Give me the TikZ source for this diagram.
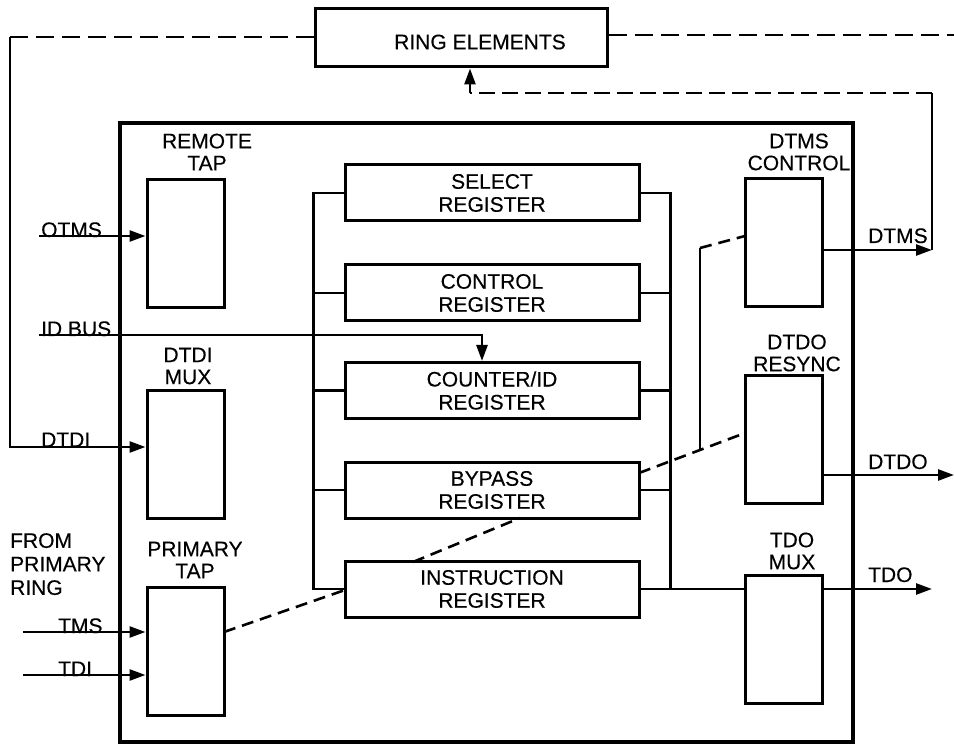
\documentclass[tikz,border=0pt]{standalone}
\usepackage{fontspec}
\setmainfont[FakeBold=0.3]{Liberation Sans}
\usetikzlibrary{arrows.meta}
\begin{document}
\begin{tikzpicture}[x=1pt,y=-1pt,
  lbl/.style={font=\fontsize{21}{22}\selectfont, inner sep=0pt, align=center},
  blk/.style={draw, line width=3pt, inner sep=0pt, minimum width=77pt, minimum height=128pt},
  reg/.style={draw, line width=3pt, inner sep=0pt, minimum width=294pt, minimum height=56pt, lbl, font=\fontsize{21}{23}\selectfont},
  wire/.style={line width=2.6pt},
  arr/.style={wire, -{Triangle[length=16pt,width=11pt]}},
  dsh/.style={wire, dash pattern=on 12pt off 7pt},
  ldsh/.style={wire, dash pattern=on 18pt off 8pt},
]
\useasboundingbox (0,0) rectangle (954,746);

% outer boxes
\node[draw, line width=4pt, minimum width=733pt, minimum height=619pt, inner sep=0pt] (main) at (486.5,432.5) {};
\node[draw, line width=3pt, minimum width=292pt, minimum height=58pt, inner sep=0pt] (ring) at (461,38) {};
\node[lbl] (ringtxt) at (480,42) {RING ELEMENTS};

% left blocks
\node[blk] (rtap) at (185.5,243.5) {};
\node[blk] (dmux) at (185.5,454) {};
\node[blk] (ptap) at (185.5,651) {};
\node[lbl] (rtaplbl) at (207,152) {REMOTE\\TAP};
\node[lbl] (dmuxlbl) at (188,366) {DTDI\\MUX};
\node[lbl] (ptaplbl) at (195,560) {PRIMARY\\TAP};

% right blocks
\node[blk] (dtms) at (784,242.5) {};
\node[blk] (dtdo) at (783.5,439) {};
\node[blk] (tmux) at (784,639) {};
\node[lbl] (dtmslbl) at (799,152) {DTMS\\CONTROL};
\node[lbl] (dtdolbl) at (797,353) {DTDO\\RESYNC};
\node[lbl] (tmuxlbl) at (792,551) {TDO\\MUX};

% registers
\node[reg] (sel) at (492,193) {SELECT\\REGISTER};
\node[reg] (ctl) at (492,293) {CONTROL\\REGISTER};
\node[reg] (cnt) at (492,390.5) {COUNTER/ID\\REGISTER};
\node[reg] (byp) at (492,490) {BYPASS\\REGISTER};
\node[reg] (ins) at (492,589) {INSTRUCTION\\REGISTER};

% left bus
\draw[wire] (sel.west) -- ++(-30,0) coordinate (lt) -- (lt |- ins.west) -- (ins.west);
\draw[wire] (ctl.west) -- (ctl.west -| lt);
\draw[wire] (cnt.west) -- (cnt.west -| lt);
\draw[wire] (byp.west) -- (byp.west -| lt);
% right bus
\draw[wire] (sel.east) -- ++(30,0) coordinate (rt) -- (rt |- ins.east);
\draw[wire] (ctl.east) -- (ctl.east -| rt);
\draw[wire] (cnt.east) -- (cnt.east -| rt);
\draw[wire] (byp.east) -- (byp.east -| rt);
\draw[wire] (ins.east) -- (ins.east -| tmux.west);

% inputs
\coordinate (otmsS) at (39,236);
\draw[arr] (otmsS) -- (otmsS -| rtap.west);
\node[lbl, anchor=base west] (otmsT) at (41,237) {OTMS};

\coordinate (idS) at (39,335);
\coordinate (idC) at (482,335);
\draw[arr] (idS) -- (idC) -- (idC |- cnt.north);
\node[lbl, anchor=base west] (idT) at (41,336) {ID BUS};

\coordinate (rl) at (10,37);
\coordinate (dtdiC) at (10,447);
\draw[ldsh] (ring.west |- rl) -- (rl);
\draw[arr] (rl) -- (dtdiC) -- (dtdiC -| dmux.west);
\node[lbl, anchor=base west] (dtdiT) at (41,447) {DTDI};

\node[lbl, anchor=north west, align=left, font=\fontsize{21}{23.5}\selectfont] (fpr) at (10,533) {FROM\\PRIMARY\\RING};

\coordinate (tmsS) at (23,632);
\draw[arr] (tmsS) -- (tmsS -| ptap.west);
\node[lbl, anchor=base west] (tmsT) at (58,633) {TMS};
\coordinate (tdiS) at (23,675);
\draw[arr] (tdiS) -- (tdiS -| ptap.west);
\node[lbl, anchor=base west] (tdiT) at (58,676) {TDI};

% outputs
\coordinate (dtmsE) at (932,250);
\coordinate (dtmsTop) at (932,93);
\coordinate (ringIn) at (470,93);
\draw[arr] (dtms.east |- dtmsE) -- (dtmsE);
\draw[wire] (dtmsE) -- (dtmsTop);
\draw[dsh, dash pattern=on 16pt off 7pt] (dtmsTop) -- (ringIn);
\draw[arr] (ringIn) -- (ringIn |- ring.south);
\node[lbl, anchor=base west] (dtmsT) at (868,243) {DTMS};

\coordinate (dtdoE) at (954,475);
\draw[arr] (dtdo.east |- dtdoE) -- (dtdoE);
\node[lbl, anchor=base west] (dtdoT) at (868,469) {DTDO};

\coordinate (tdoE) at (932,589);
\draw[arr] (tmux.east |- tdoE) -- (tdoE);
\node[lbl, anchor=base west] (tdoT) at (868,582) {TDO};

\coordinate (rr) at (954,35);
\draw[ldsh] (ring.east |- rr) -- (rr);

% dashed internal paths
\coordinate (pt1) at (224,632);
\draw[dsh] (pt1) -- (345,590);
\draw[dsh] (413,562) -- (520,518);
\coordinate (bp1) at (639,473);
\coordinate (dd1) at (745,433);
\draw[dsh] (bp1) -- (dd1);
\coordinate (jn) at (700,450);
\coordinate (jt) at (700,248);
\draw[wire] (jn) -- (jt);
\draw[dsh] (jt) -- (745,236);
\end{tikzpicture}
\end{document}
